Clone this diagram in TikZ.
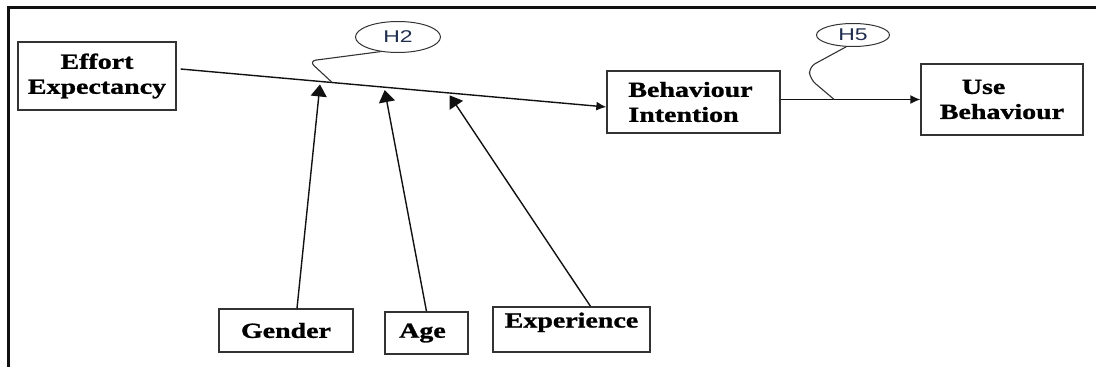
\documentclass[tikz,border=0pt]{standalone}
\usepackage{fontspec}
\setmainfont{Liberation Serif}
\newfontfamily\boxfont[FakeStretch=1.3,FakeBold=1.2]{Liberation Serif}
\newfontfamily\hypfont[FakeStretch=1.35]{Liberation Sans}
\usetikzlibrary{arrows.meta,calc,shapes.geometric}
\definecolor{ink}{HTML}{111111}
\definecolor{edge}{HTML}{333333}
\definecolor{hyp}{HTML}{1F2D4F}
\tikzset{
  construct/.style={draw=edge,line width=1.3pt,inner sep=0pt,
                    font=\boxfont\bfseries\fontsize{21.5}{25}\selectfont,text=black},
  hypo/.style={ellipse,draw=edge,line width=1pt,inner sep=0pt,
               font=\hypfont\fontsize{17}{18}\selectfont,text=hyp},
  link/.style={-{Latex[length=10pt,width=9pt]},draw=ink,line width=1.4pt},
  moder/.style={-{Triangle[length=12pt,width=16pt]},draw=ink,line width=1.4pt,
                shorten >=3pt},
  loopline/.style={draw=edge,line width=1.1pt,rounded corners=7pt},
}

\begin{document}
\begin{tikzpicture}[x=1pt,y=-1pt]           % y down, pixel-like units
\path[use as bounding box] (0,0) rectangle (1096,367);
\draw[ink,line width=3pt] (1096,7) -- (8,7) -- (8,367);

% The constructs.
\node[construct,minimum width=158,minimum height=68,align=center] (ee) at (97,76) {Effort\\Expectancy};
\node[construct,minimum width=173,minimum height=62,align=left] (bi) at (693.5,102) {Behaviour\hspace*{6pt}\\Intention};
\node[construct,minimum width=162,minimum height=71,align=left] (ub) at (1002,99.5) {\hspace*{22pt}Use\\Behaviour};

% Moderators along the bottom; Experience has its text set high in the box.
\node[construct,minimum width=134,minimum height=43] (gender) at (286,330.5) {Gender};
\node[construct,minimum width=83,minimum height=42] (age) at (426.5,333) {Age\hspace*{8pt}};
\node[construct,minimum width=157,minimum height=45,text height=15pt,text depth=19pt]
      (exp) at (571.5,329.5) {Experience};

\node[hypo,minimum width=85,minimum height=31] (h2) at (398,37) {H2};
\node[hypo,minimum width=73,minimum height=23] (h5) at (853,35) {H5};

% Main path EE -> BI, with the points where the moderators meet it.
\coordinate (ms) at ($(ee.east)+(4,-7)$);
\coordinate (me) at ([yshift=-5pt]bi.west);
\draw[link] (ms) -- (me);
\coordinate (mg) at ($(ms)!.328!(me)$);
\coordinate (ma) at ($(ms)!.478!(me)$);
\coordinate (mx) at ($(ms)!.628!(me)$);
\draw[moder] ([xshift=11pt]gender.north) -- (mg);
\draw[moder] (age.north) -- (ma);
\draw[moder] ([xshift=19pt]exp.north) -- (mx);

% Hypothesis tags hooked onto their paths.
\coordinate (m2) at ($(ms)!.356!(me)$);
\draw[loopline] (h2.-140) -- (309,61) -- (m2);
\draw[link] (bi.east |- ub.west) -- (ub.west);
\coordinate (m5) at ($(bi.east |- ub.west)!.383!(ub.west)$);
\draw[loopline] (h5.-120) -- (809,67) -- (810,79) -- (m5);

\end{tikzpicture}
\end{document}
